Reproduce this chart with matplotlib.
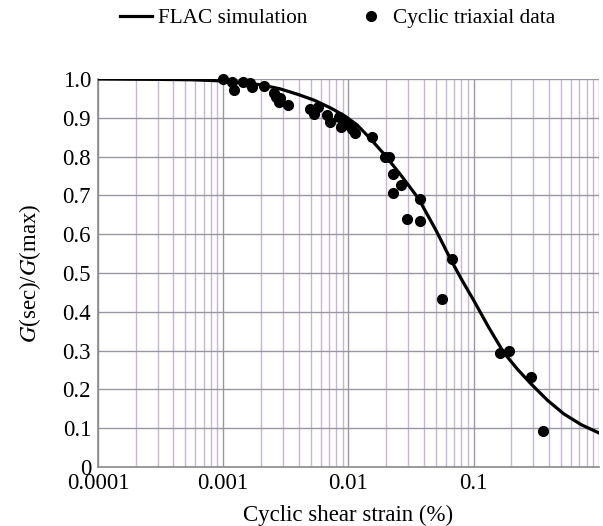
import numpy as np
import matplotlib
matplotlib.use('Agg')
import matplotlib.pyplot as plt
from matplotlib.ticker import FixedLocator, NullFormatter

# FLAC simulation curve
curve_strain = [0.0001, 0.000316, 0.000562, 0.001, 0.00141, 0.002, 0.00282,
                0.00398, 0.00537, 0.00724, 0.00933, 0.0117, 0.0148, 0.0191,
                0.0263, 0.0363, 0.0501, 0.0661, 0.0813, 0.1, 0.132, 0.174,
                0.224, 0.288, 0.389, 0.525, 0.724, 1.0]
curve_ratio = [1.0, 0.999, 0.998, 0.995, 0.991, 0.985, 0.975,
               0.960, 0.945, 0.925, 0.905, 0.882, 0.848, 0.808,
               0.752, 0.692, 0.610, 0.533, 0.480, 0.430, 0.360, 0.295,
               0.252, 0.214, 0.172, 0.137, 0.109, 0.088]

# Cyclic triaxial test points
test_strain = [0.00100, 0.00117, 0.00121, 0.00144, 0.00164, 0.00170, 0.00210,
               0.00253, 0.00265, 0.00277, 0.00286, 0.00327, 0.00497, 0.00527,
               0.00568, 0.00676, 0.00718, 0.00838, 0.00873, 0.00946, 0.0101,
               0.0107, 0.0112, 0.0155, 0.0195, 0.0210, 0.0228, 0.0265, 0.0228,
               0.0370, 0.0295, 0.0370, 0.0667, 0.0562, 0.162, 0.191, 0.286,
               0.358]
test_ratio = [1.0, 0.993, 0.972, 0.993, 0.990, 0.980, 0.983,
              0.963, 0.954, 0.942, 0.950, 0.933, 0.922, 0.909,
              0.927, 0.907, 0.890, 0.903, 0.876, 0.890, 0.881,
              0.870, 0.860, 0.851, 0.800, 0.800, 0.754, 0.727, 0.707,
              0.692, 0.638, 0.634, 0.535, 0.432, 0.295, 0.299, 0.233,
              0.094]

x_ticks = [0.0001, 0.001, 0.01, 0.1]
x_tick_labels = ['0.0001', '0.001', '0.01', '0.1']
y_ticks = [0, 0.1, 0.2, 0.3, 0.4, 0.5, 0.6, 0.7, 0.8, 0.9, 1.0]
y_tick_labels = ['0', '0.1', '0.2', '0.3', '0.4', '0.5', '0.6', '0.7', '0.8', '0.9', '1.0']


def main():
    plt.rcParams['font.family'] = ['Liberation Serif', 'DejaVu Serif']
    plt.rcParams['mathtext.fontset'] = 'stix'
    plt.rcParams['font.size'] = 16.5

    fig = plt.figure(figsize=(6.03, 5.26), dpi=100)
    ax = fig.add_axes([0.1625, 0.1122, 0.8305, 0.7376])

    ax.plot(curve_strain, curve_ratio, color='black', lw=2.3,
            label='FLAC simulation', zorder=3)
    ax.plot(test_strain, test_ratio, 'o', color='black', ms=7,
            label='Cyclic triaxial data', clip_on=False, zorder=4)

    ax.set_xscale('log')
    ax.set_xlim(0.0001, 1.0)
    ax.set_ylim(0, 1.0)

    ax.xaxis.set_major_locator(FixedLocator(x_ticks + [1.0]))
    ax.set_xticklabels(x_tick_labels + [''])
    minors = [m * 10.0 ** e for e in range(-4, 0) for m in range(2, 10)]
    ax.xaxis.set_minor_locator(FixedLocator(minors))
    ax.xaxis.set_minor_formatter(NullFormatter())
    ax.set_yticks(y_ticks)
    ax.set_yticklabels(y_tick_labels)

    ax.tick_params(which='both', length=0)
    ax.tick_params(axis='x', pad=4)
    ax.tick_params(axis='y', pad=5)

    ax.grid(True, which='major', axis='x', color='#9a95a0', lw=1.0)
    ax.grid(True, which='minor', axis='x', color='#c4b9cc', lw=1.0)
    ax.grid(True, which='major', axis='y', color='#9a95a0', lw=1.0)
    ax.set_axisbelow(True)

    for side in ['top', 'right']:
        ax.spines[side].set_visible(False)
    for side in ['left', 'bottom']:
        ax.spines[side].set_color('#8a8a8a')
        ax.spines[side].set_linewidth(1.2)

    ax.set_xlabel('Cyclic shear strain (%)', labelpad=8)
    ax.set_ylabel('$G$(sec)/$G$(max)', labelpad=14)

    fig.legend(loc='center', bbox_to_anchor=(0.56, 0.965), ncol=2,
               frameon=False, handlelength=1.5, handletextpad=0.3,
               columnspacing=2.2, borderaxespad=0, fontsize=15.3)

    fig.savefig('out.png', dpi=100)


if __name__ == '__main__':
    main()
